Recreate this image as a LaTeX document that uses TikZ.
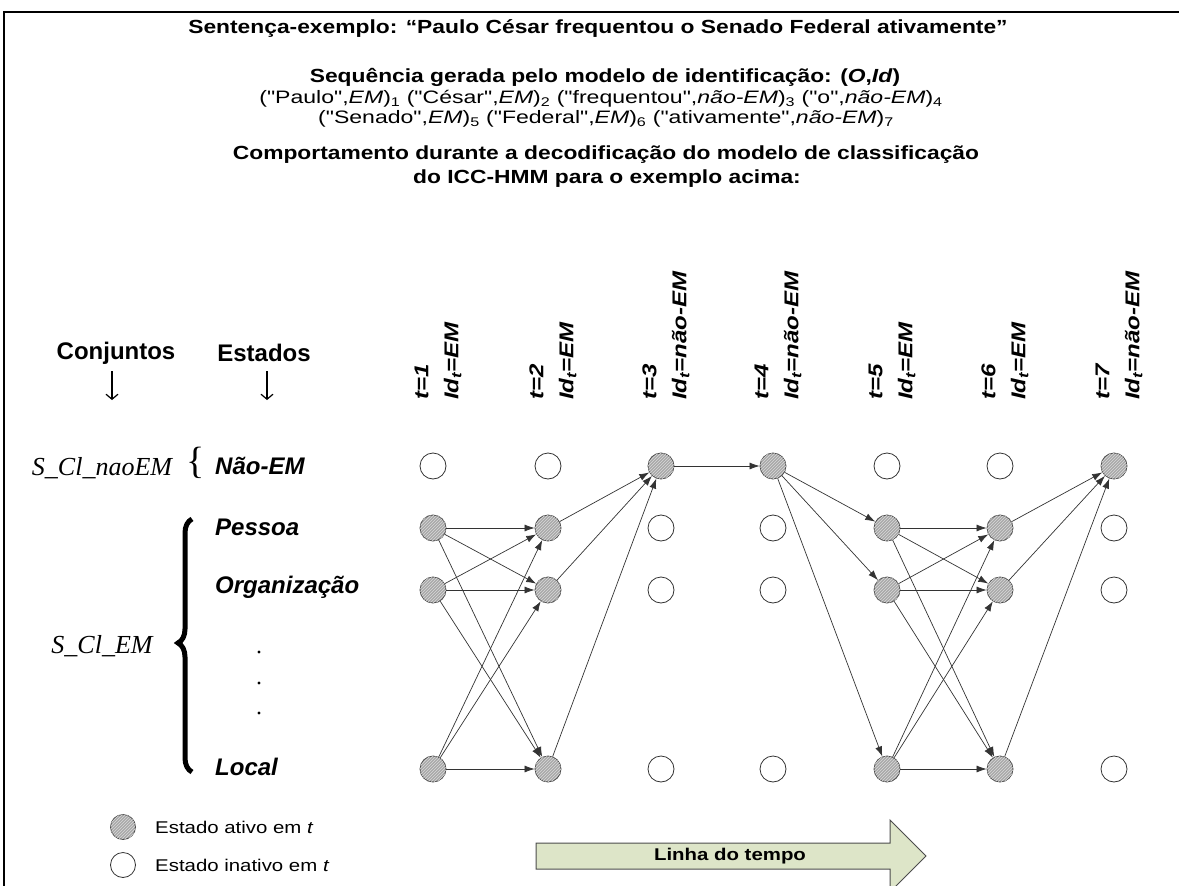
\documentclass[tikz,border=0pt]{standalone}
\usepackage{fontspec}
\setmainfont{Liberation Sans}
\newfontfamily\serifit{Liberation Serif}
\newfontfamily\widesans{Liberation Sans}[FakeStretch=1.2]
\newfontfamily\widersans{Liberation Sans}[FakeStretch=1.28]
\usetikzlibrary{patterns,arrows.meta,decorations.pathreplacing}

\definecolor{timefill}{HTML}{DDE5C8}
\definecolor{actfill}{HTML}{A9A9A9}

\tikzset{
  hdr/.style={font=\fontsize{19}{22}\widesans\bfseries, inner sep=0},
  seqtxt/.style={font=\fontsize{18}{21}\widersans, inner sep=0},
  colhead/.style={font=\fontsize{24}{28}\selectfont\bfseries, inner sep=0},
  downarr/.style={line width=1.2pt, -{Straight Barb[length=5pt,width=12pt]}},
  statelbl/.style={font=\fontsize{24}{28}\selectfont\bfseries\itshape, anchor=west, inner sep=0},
  setlbl/.style={font=\fontsize{26}{28}\serifit\itshape, inner sep=0},
  tlbl/.style={rotate=90, anchor=west, align=left, inner sep=0,
    font=\fontsize{20}{30}\widesans\bfseries\itshape},
  legtxt/.style={font=\fontsize{17}{20}\widesans, anchor=west, inner sep=0},
  active/.style={circle, draw=black!70, line width=0.8pt, minimum size=26pt, inner sep=0,
    fill=actfill, postaction={pattern=north east lines, pattern color=gray!30}},
  inactive/.style={circle, draw=black!80, line width=0.8pt, minimum size=26pt, inner sep=0,
    fill=white},
  st1/.style={active}, st0/.style={inactive},
  trans/.style={draw=black!80, line width=0.7pt, -{Latex[length=10pt,width=7pt]}},
}

\begin{document}
\begin{tikzpicture}[x=1pt,y=-1pt]
\useasboundingbox (0,0) rectangle (1179,886);
\clip (0,0) rectangle (1179,886);

% outer frame
\draw[line width=2pt] (4,12) rectangle (1200,920);

% header texts
\node[hdr] (title) at (598,29) {Sentença-exemplo: “Paulo César frequentou o Senado Federal ativamente”};
\node[hdr] (seqhead) at (605,77) {Sequência gerada pelo modelo de identificação: (\textit{O},\textit{Id})};
\node[seqtxt] (seq1) at (601,99) {("Paulo",\textit{EM})\textsubscript{1} ("César",\textit{EM})\textsubscript{2} ("frequentou",\textit{não-EM})\textsubscript{3} ("o",\textit{não-EM})\textsubscript{4}};
\node[seqtxt] (seq2) at (606,119) {("Senado",\textit{EM})\textsubscript{5} ("Federal",\textit{EM})\textsubscript{6} ("ativamente",\textit{não-EM})\textsubscript{7}};
\node[hdr] (beh1) at (606,155) {Comportamento durante a decodificação do modelo de classificação};
\node[hdr] (beh2) at (607,179) {do ICC-HMM para o exemplo acima:};

% column headings with their down arrows
\node[colhead] (conj) at (116,353) {Conjuntos};
\node[colhead] (est) at (264,353) {Estados};
\coordinate (conjA) at (112,371);
\coordinate (conjB) at (112,400);
\coordinate (estA) at (267,371);
\coordinate (estB) at (267,400);
\draw[downarr] (conjA) -- (conjB);
\draw[downarr] (estA) -- (estB);

% state names
\node[statelbl] (lnao) at (215,466) {Não-EM};
\node[statelbl] (lpes) at (215,527) {Pessoa};
\node[statelbl] (lorg) at (215,587) {Organização};
\node[statelbl] (lloc) at (215,767) {Local};
\foreach \d/\yy in {1/652,2/683,3/713}
  \fill (259,\yy) circle (1.6pt) coordinate (dot\d);

% state sets and braces
\node[setlbl] (snao) at (102,468) {S\_Cl\_naoEM};
\node[font=\fontsize{38}{38}\serifit, inner sep=0] (bnao) at (196,463) {\{};
\node[setlbl] (sem) at (102,646) {S\_Cl\_EM};
\draw[line width=5pt, decorate, decoration={brace, amplitude=14pt, aspect=0.51}]
  (192,772) -- (192,519);

% time step labels
\foreach \c/\x/\lab in {1/433/EM,2/548/EM,3/661/não-EM,4/773/não-EM,5/887/EM,6/1000/EM,7/1114/não-EM}
  \node[tlbl] (t\c) at (\x+5,400) {t=\c\\Id\textsubscript{t}=\lab};

% state lattice: row 0 = Não-EM, 1 = Pessoa, 2 = Organização, 3 = Local
\foreach \c/\x/\k in {1/433/1,2/548/1,3/661/0,4/773/0,5/887/1,6/1000/1,7/1114/0}
  \foreach \r/\y in {0/466,1/528,2/590,3/769} {
    \pgfmathtruncatemacro\act{((\k==1)&&(\r>0)) || ((\k==0)&&(\r==0))}
    \node[st\act] (s\c-\r) at (\x,\y) {};
  }

% transitions
\foreach \a/\b in {1/2,5/6}
  \foreach \i in {1,2,3}
    \foreach \j in {1,2,3}
      \draw[trans] (s\a-\i) -- (s\b-\j);
\foreach \i in {1,2,3} \draw[trans] (s2-\i) -- (s3-0);
\draw[trans] (s3-0) -- (s4-0);
\foreach \j in {1,2,3} \draw[trans] (s4-0) -- (s5-\j);
\foreach \i in {1,2,3} \draw[trans] (s6-\i) -- (s7-0);

% legend
\node[active, minimum size=25pt] (legact) at (123,827) {};
\node[legtxt] (legacttxt) at (155,827) {Estado ativo em \textit{t}};
\node[inactive, minimum size=25pt] (leginact) at (123,865) {};
\node[legtxt] (leginacttxt) at (155,865) {Estado inativo em \textit{t}};

% time line arrow
\draw[draw=black!70, line width=1pt, fill=timefill]
  (536,843) -- (890,843) -- (890,820) -- (926,856) -- (890,892) -- (890,869) -- (536,869) -- cycle;
\node[font=\fontsize{17}{20}\widesans\bfseries, inner sep=0] (timeline) at (730,856) {Linha do tempo};
\end{tikzpicture}
\end{document}
